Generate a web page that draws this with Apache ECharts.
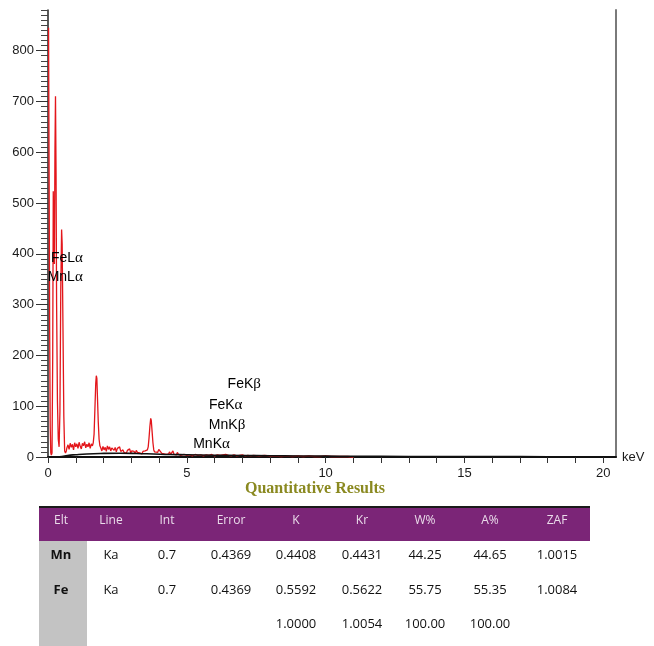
<!DOCTYPE html>
<html>
<head>
<meta charset="utf-8">
<script src="https://cdn.jsdelivr.net/npm/echarts@6/dist/echarts.min.js"></script>
<style>
  html, body { margin: 0; padding: 0; background: #ffffff; }
  #chart { width: 654px; height: 646px; }
</style>
</head>
<body>
<div id="chart"></div>
<script>
// EDS spectrum: measured counts versus energy (keV)
const spectrum = [
  [0.02, 845], [0.04, 560], [0.06, 250], [0.08, 60], [0.10, 8], [0.12, 4], [0.145, 8],
  [0.17, 200], [0.19, 523], [0.21, 430], [0.23, 380], [0.25, 600], [0.27, 710],
  [0.29, 560], [0.31, 300], [0.34, 110], [0.37, 35], [0.40, 20], [0.43, 90],
  [0.46, 330], [0.49, 448], [0.51, 420], [0.54, 250], [0.57, 80], [0.60, 12],
  [0.63, 8], [0.66, 12],
  [0.68, 18], [0.72, 24], [0.76, 15], [0.80, 27], [0.84, 19], [0.88, 25], [0.92, 14],
  [0.96, 28], [1.00, 20], [1.04, 26], [1.08, 17], [1.12, 29], [1.16, 21], [1.20, 16],
  [1.24, 27], [1.28, 22], [1.32, 30], [1.36, 18], [1.40, 25], [1.44, 20], [1.48, 28],
  [1.52, 17], [1.56, 26], [1.60, 22],
  [1.63, 28], [1.66, 45], [1.69, 95], [1.72, 145], [1.74, 160], [1.76, 155],
  [1.78, 120], [1.81, 70], [1.84, 35], [1.87, 22],
  [1.90, 18], [1.94, 12], [1.98, 21], [2.02, 14], [2.06, 19], [2.10, 11], [2.14, 22],
  [2.18, 15], [2.22, 20], [2.26, 12], [2.30, 18], [2.34, 21], [2.38, 13], [2.42, 19],
  [2.46, 10], [2.50, 17], [2.54, 14], [2.58, 20],
  [2.62, 11], [2.66, 8], [2.70, 14], [2.74, 9], [2.78, 12], [2.82, 7], [2.86, 13],
  [2.90, 10], [2.94, 16], [2.98, 8], [3.02, 12], [3.06, 9], [3.10, 11], [3.14, 7],
  [3.18, 13], [3.22, 9], [3.26, 12], [3.30, 8], [3.34, 10], [3.38, 6], [3.42, 11],
  [3.46, 8], [3.50, 12], [3.54, 9], [3.58, 14],
  [3.61, 20], [3.64, 38], [3.67, 60], [3.70, 76], [3.72, 72], [3.75, 50], [3.78, 28],
  [3.81, 14], [3.84, 10],
  [3.87, 8], [3.91, 11], [3.95, 9], [3.99, 15], [4.03, 18], [4.06, 12], [4.10, 7],
  [4.14, 10], [4.18, 6], [4.22, 9], [4.26, 5], [4.30, 8], [4.34, 6], [4.38, 10],
  [4.42, 5], [4.46, 7], [4.50, 12], [4.54, 5], [4.58, 7], [4.62, 4], [4.66, 9],
  [4.70, 5], [4.74, 6], [4.78, 3],
  [4.9, 5], [5.0, 3], [5.1, 4], [5.2, 2], [5.3, 5], [5.4, 3], [5.5, 4], [5.6, 2],
  [5.7, 4], [5.8, 3], [5.9, 5], [6.0, 2], [6.1, 4], [6.2, 3], [6.3, 4], [6.4, 5],
  [6.5, 3], [6.6, 2], [6.7, 4], [6.8, 2], [6.9, 3], [7.0, 4], [7.1, 2], [7.2, 3],
  [7.3, 2], [7.4, 3], [7.6, 2], [7.8, 3], [8.0, 2], [8.2, 2], [8.4, 1], [8.6, 2],
  [8.8, 1], [9.0, 2], [9.2, 1], [9.4, 2], [9.6, 1], [9.8, 1], [10.0, 2], [10.2, 1],
  [10.4, 1], [10.6, 1], [10.8, 1], [11.0, 0]
];

// Fitted bremsstrahlung background
const background = [
  [0.3, 0], [0.5, 1], [0.7, 3], [1.0, 4.5], [1.4, 6], [1.9, 7], [2.6, 7.5], [3.2, 7],
  [3.8, 6], [4.4, 5], [5.0, 4.5], [6.0, 3.5], [7.0, 3], [8.0, 2.5], [9.0, 2],
  [10, 1.7], [11, 1.4], [12, 1.2], [14, 1], [16, 0.8], [18, 0.6], [20, 0.5], [20.46, 0.5]
];

// Peak identification labels
const peakNames = ['FeLα', 'MnLα', 'FeKβ', 'FeKα', 'MnKβ', 'MnKα'];
const peakKeV = [0.68, 0.62, 7.07, 6.40, 6.45, 5.89];
const peakCounts = [392, 355, 143, 102, 62, 25];

// Axis ticks
const energyTicks = [0, 5, 10, 15, 20];
const countTicks = [0, 100, 200, 300, 400, 500, 600, 700, 800];
const energyMax = 20.46;
const countMax = 880;

// Quantitative results table
const tableHeader = ['Elt', 'Line', 'Int', 'Error', 'K', 'Kr', 'W%', 'A%', 'ZAF'];
const tableRows = [
  ['Mn', 'Ka', '0.7', '0.4369', '0.4408', '0.4431', '44.25', '44.65', '1.0015'],
  ['Fe', 'Ka', '0.7', '0.4369', '0.5592', '0.5622', '55.75', '55.35', '1.0084'],
  ['', '', '', '', '1.0000', '1.0054', '100.00', '100.00', '']
];

const energyMinor = [];
for (let e = 0; e <= 20; e++) energyMinor.push(e);
const countMinor = [];
for (let c = 10; c <= countMax; c += 10) if (c % 100 !== 0) countMinor.push(c);

const chart = echarts.init(document.getElementById('chart'), null, { renderer: 'canvas' });

const axisFont = { fontFamily: 'Liberation Sans, Arial, sans-serif', fontSize: 13, color: '#1a1a1a' };

// Table drawn as graphic elements
const colX = [61, 111, 167, 231, 296, 362, 425, 490, 557];
const rowY = [555, 590, 624];
const tableFont = 'Open Sans, Liberation Sans, sans-serif';
const graphics = [
  { type: 'rect', shape: { x: 39, y: 507, width: 551, height: 34 }, style: { fill: '#7b2577' }, silent: true },
  { type: 'line', shape: { x1: 39, y1: 507, x2: 590, y2: 507 }, style: { stroke: '#1a1a1a', lineWidth: 2 }, silent: true },
  { type: 'rect', shape: { x: 39, y: 541, width: 48, height: 105 }, style: { fill: '#c3c3c3' }, silent: true },
  {
    type: 'text', x: 315, y: 489,
    style: {
      text: 'Quantitative Results', fill: '#8a8920', align: 'center', verticalAlign: 'middle',
      font: 'bold 16px "Liberation Serif", "Times New Roman", serif'
    }, silent: true
  }
];
tableHeader.forEach((h, i) => {
  graphics.push({
    type: 'text', x: colX[i], y: 521,
    style: { text: h, fill: '#eadcea', align: 'center', verticalAlign: 'middle', font: '12px ' + tableFont },
    silent: true
  });
});
tableRows.forEach((row, r) => {
  row.forEach((cell, i) => {
    if (!cell) return;
    graphics.push({
      type: 'text', x: colX[i], y: rowY[r],
      style: {
        text: cell, fill: '#111', align: 'center', verticalAlign: 'middle',
        font: (i === 0 ? 'bold ' : '') + '13px ' + tableFont
      },
      silent: true
    });
  });
});

const option = {
  animation: false,
  backgroundColor: '#ffffff',
  grid: { left: 48, right: 38, top: 10, bottom: 189, containLabel: false },
  xAxis: [{
    type: 'value', min: 0, max: energyMax, interval: 5,
    splitLine: { show: false },
    axisLine: { show: true, lineStyle: { color: '#111', width: 2 } },
    axisTick: { show: true, customValues: energyMinor, length: 6, lineStyle: { color: '#333', width: 1 } },
    axisLabel: { customValues: energyTicks, margin: 10, ...axisFont },
    name: 'keV', nameLocation: 'end', nameGap: 6,
    nameTextStyle: { ...axisFont, align: 'left', verticalAlign: 'middle', padding: [0, 0, 12, 0] }
  }],
  yAxis: [{
    type: 'value', min: 0, max: countMax, interval: 100, position: 'left',
    splitLine: { show: false },
    axisLine: { show: true, lineStyle: { color: '#222', width: 1.5 } },
    axisTick: { show: true, customValues: countTicks, length: 12, lineStyle: { color: '#333', width: 1 } },
    axisLabel: { customValues: countTicks, margin: 14, ...axisFont }
  }, {
    type: 'value', min: 0, max: countMax, position: 'left',
    splitLine: { show: false },
    axisLine: { show: false },
    axisTick: { show: true, customValues: countMinor, length: 7, lineStyle: { color: '#444', width: 1 } },
    axisLabel: { show: false }
  }, {
    type: 'value', min: 0, max: countMax, position: 'right',
    splitLine: { show: false },
    axisLine: { show: true, lineStyle: { color: '#7a7a7a', width: 2 } },
    axisTick: { show: false },
    axisLabel: { show: false }
  }],
  series: [{
    name: 'Spectrum', type: 'line', data: spectrum, showSymbol: false, symbol: 'none',
    clip: false, lineStyle: { color: '#e3161b', width: 1.3 }, z: 2
  }, {
    name: 'Background', type: 'line', data: background, showSymbol: false, symbol: 'none',
    smooth: true, lineStyle: { color: '#111', width: 1.6 }, z: 3
  }, {
    name: 'Peaks', type: 'scatter', symbolSize: 0, z: 4,
    itemStyle: { color: 'rgba(0,0,0,0)' },
    data: peakNames.map((n, i) => [peakKeV[i], peakCounts[i], n]),
    label: {
      show: true, position: 'inside', opacity: 1,
      formatter: p => p.data[2].replace(/([αβ])/, '{g|$1}'),
      fontFamily: 'Liberation Sans, Arial, sans-serif', fontSize: 14, color: '#000',
      textBorderWidth: 0,
      rich: { g: { fontFamily: 'Liberation Serif, Times New Roman, serif', fontSize: 15, color: '#000' } }
    },
    emphasis: { disabled: true }
  }],
  graphic: graphics
};

chart.setOption(option);
</script>
</body>
</html>
